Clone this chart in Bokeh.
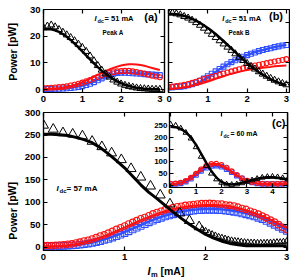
from bokeh.plotting import figure
from bokeh.models import GridBox, Range1d, LinearAxis, FixedTicker, Label
from bokeh.embed import file_html
from bokeh.resources import INLINE

FONT = "Liberation Sans"

# ---------------- data ----------------
X31 = [0.0, 0.1, 0.2, 0.3, 0.4, 0.5, 0.6, 0.7, 0.8, 0.9, 1.0, 1.1, 1.2, 1.3, 1.4, 1.5,
       1.6, 1.7, 1.8, 1.9, 2.0, 2.1, 2.2, 2.3, 2.4, 2.5, 2.6, 2.7, 2.8, 2.9, 3.0]
X61 = [0.0, 0.05, 0.1, 0.15, 0.2, 0.25, 0.3, 0.35, 0.4, 0.45, 0.5, 0.55, 0.6, 0.65, 0.7,
       0.75, 0.8, 0.85, 0.9, 0.95, 1.0, 1.05, 1.1, 1.15, 1.2, 1.25, 1.3, 1.35, 1.4, 1.45,
       1.5, 1.55, 1.6, 1.65, 1.7, 1.75, 1.8, 1.85, 1.9, 1.95, 2.0, 2.05, 2.1, 2.15, 2.2,
       2.25, 2.3, 2.35, 2.4, 2.45, 2.5, 2.55, 2.6, 2.65, 2.7, 2.75, 2.8, 2.85, 2.9, 2.95, 3.0]
X24 = [0.0, 0.2, 0.4, 0.6, 0.8, 1.0, 1.2, 1.4, 1.6, 1.8, 2.0, 2.2, 2.4, 2.6, 2.8, 3.0,
       3.2, 3.4, 3.6, 3.8, 4.0, 4.2, 4.4, 4.6]

# panel (a) Idc = 51 mA, peak A
a_tri = [23.2, 23.8, 24.2, 23.5, 22.5, 21.5, 20.5, 19.5, 18.3, 17.0, 15.8, 14.3, 12.6, 10.8,
         9.0, 7.3, 5.9, 4.7, 3.6, 2.8, 2.1, 1.6, 1.2, 0.9, 0.6, 0.4, 0.3, 0.2, 0.1, 0.1, 0.1]
a_fit_black = [22.6, 22.7, 22.6, 22.2, 21.6, 20.8, 19.8, 18.6, 17.2, 15.8, 14.3, 12.8, 11.3,
               9.8, 8.4, 7.1, 5.9, 4.8, 3.9, 3.1, 2.4, 1.8, 1.4, 1.0, 0.7, 0.5, 0.3, 0.2, 0.1, 0.1, 0.0]
a_circ = [0.6, 0.6, 0.7, 0.8, 0.9, 1.0, 1.2, 1.5, 1.8, 2.2, 2.6, 3.1, 3.6, 4.2, 4.8, 5.3,
          5.8, 6.2, 6.5, 6.8, 6.9, 7.0, 7.0, 6.8, 6.6, 6.3, 6.0, 5.6, 5.2, 4.9, 4.6]
a_fit_red = [0.2, 0.2, 0.3, 0.4, 0.5, 0.7, 1.0, 1.3, 1.7, 2.2, 2.8, 3.4, 4.1, 4.8, 5.5, 6.2,
             6.9, 7.5, 8.1, 8.6, 9.0, 9.3, 9.5, 9.5, 9.4, 9.2, 8.9, 8.5, 8.1, 7.7, 7.3]
a_sq = [0.2, 0.2, 0.2, 0.3, 0.3, 0.4, 0.5, 0.6, 0.8, 1.0, 1.3, 1.7, 2.2, 2.8, 3.5, 4.2,
        4.9, 5.5, 5.9, 6.2, 6.3, 6.3, 6.2, 6.1, 6.0, 5.9, 5.8, 5.7, 5.6, 5.5, 5.4]
a_fit_blue = [0.1, 0.1, 0.2, 0.2, 0.3, 0.4, 0.5, 0.7, 0.9, 1.2, 1.5, 1.9, 2.4, 3.0, 3.6, 4.2,
              4.8, 5.3, 5.7, 6.0, 6.2, 6.3, 6.3, 6.2, 6.1, 6.0, 5.9, 5.8, 5.7, 5.6, 5.5]

# panel (b) Idc = 51 mA, peak B
b_tri = [28.8, 28.7, 28.4, 28.0, 27.4, 26.8, 26.0, 25.1, 24.1, 23.0, 21.9, 20.7, 19.5, 18.3,
         17.1, 15.9, 14.7, 13.4, 12.1, 10.9, 9.8, 8.7, 7.7, 6.7, 5.8, 5.0, 4.2, 3.5, 2.9, 2.3, 1.8]
b_fit_black = [28.3, 28.3, 28.2, 28.0, 27.6, 27.1, 26.5, 25.8, 25.0, 24.1, 23.1, 22.0, 20.8,
               19.5, 18.2, 16.8, 15.4, 14.0, 12.6, 11.2, 9.9, 8.7, 7.6, 6.5, 5.6, 4.7, 3.9, 3.2, 2.6, 2.1, 1.6]
b_sq = [0.9, 0.9, 1.0, 1.1, 1.3, 1.6, 2.0, 2.6, 3.3, 4.1, 5.0, 5.9, 6.8, 7.7, 8.6, 9.5,
        10.3, 11.0, 11.7, 12.3, 12.9, 13.4, 13.9, 14.4, 14.8, 15.2, 15.5, 15.9, 16.2, 16.5, 16.7]
b_fit_blue = [0.1, 0.2, 0.3, 0.5, 0.7, 1.0, 1.5, 2.1, 2.8, 3.7, 4.6, 5.6, 6.6, 7.6, 8.5, 9.4,
              10.2, 11.0, 11.7, 12.3, 12.9, 13.5, 14.0, 14.4, 14.8, 15.2, 15.6, 15.9, 16.2, 16.5, 16.8]
b_circ = [1.0, 1.1, 1.3, 1.5, 1.8, 2.1, 2.5, 2.9, 3.4, 3.9, 4.4, 4.8, 5.2, 5.6, 6.0, 6.4,
          6.8, 7.2, 7.6, 8.0, 8.4, 8.7, 9.0, 9.3, 9.6, 9.9, 10.2, 10.5, 10.8, 11.1, 11.4]
b_fit_red = [0.2, 0.3, 0.4, 0.6, 0.8, 1.0, 1.3, 1.7, 2.1, 2.5, 3.0, 3.5, 4.0, 4.5, 5.0, 5.5,
             5.9, 6.3, 6.7, 7.0, 7.3, 7.6, 7.8, 8.0, 8.2, 8.4, 8.5, 8.7, 8.8, 8.9, 9.0]

# panel (c) Idc = 57 mA
c_tri_x1 = [0.0, 0.12, 0.24, 0.36, 0.48, 0.6, 0.72, 0.84, 0.96, 1.08, 1.2, 1.32, 1.44, 1.56,
            1.68, 1.8, 1.92]
c_tri_1 = [272, 263, 255, 252, 248, 236, 224, 210, 195, 175, 156, 136, 116, 96, 76, 59, 45]
c_tri_x2 = [1.96, 2.0, 2.04, 2.08, 2.12, 2.16, 2.2, 2.24, 2.28, 2.32, 2.36, 2.4, 2.44, 2.48,
            2.52, 2.56, 2.6, 2.64, 2.68, 2.72, 2.76, 2.8, 2.84, 2.88, 2.92, 2.96, 3.0]
c_tri_2 = [40, 36, 32, 29, 26, 23, 21, 19, 17, 15, 14, 13, 12, 11, 10.5, 10, 10, 9.5, 9.5,
           9.5, 10, 10, 10.5, 11, 11, 12, 13]
c_fit_black = [252, 252, 251, 249, 245, 240, 233, 222, 208, 193, 177, 158, 139, 122, 108, 93,
               78, 64, 51, 39, 28, 20, 13, 8, 5, 3, 3, 3, 3, 3, 3]
c_circ = [3, 3.5, 3, 4, 4.5, 5, 6, 7, 9, 11, 13.5, 15, 18, 21, 24.5, 27, 31, 35, 39.5, 43,
          47, 51.5, 55, 59, 63, 66, 70, 74, 77, 80, 83, 85, 88, 90, 91, 93, 94, 95, 96, 97,
          97, 97.5, 97, 96, 96, 94, 93, 91.5, 89, 86, 84, 80, 77, 73.5, 69, 65, 60, 55.5, 50, 44, 39]
c_sq = [2, 2, 2, 2.5, 2, 2.5, 3, 3.5, 4, 5, 6, 7.5, 9, 11, 13, 15.5, 18, 21, 24, 27.5,
        31, 35, 39, 43, 47, 51, 55, 58.5, 62, 65, 68, 70.5, 73, 75, 77, 78.5, 80, 81, 82, 82.5,
        83, 83, 83, 82.5, 82, 81, 80, 78.5, 77, 75, 73, 70.5, 68, 65, 62, 58, 54, 49.5, 45, 40.5, 36]
c_fit_red = [1, 1, 2, 3.5, 6, 10, 15, 21, 28, 36, 44, 52, 60, 67, 74, 80, 85, 88.5, 91, 93,
             94, 94, 93, 91, 87, 82, 76, 69, 61, 52, 42]
c_fit_blue = [1, 1, 2, 3, 4.5, 7, 10, 14.5, 20, 26, 33, 41, 49, 57, 64, 70, 75, 79, 82, 84,
              85, 85, 84, 82, 79, 75, 70, 64, 57, 48, 38]

# inset Idc = 60 mA
i_tri = [255, 250, 238, 220, 196, 160, 120, 82, 50, 26, 12, 5, 3, 5, 10, 16, 22, 28, 33,
         36, 37, 35, 31, 26]
i_fit_black = [245, 243, 236, 222, 200, 170, 133, 95, 60, 33, 15, 6, 4, 6, 11, 17, 23, 28,
               32, 34, 34, 32, 29, 25]
i_circ = [8, 9, 12, 20, 33, 50, 68, 82, 90, 91, 86, 75, 60, 45, 31, 21, 14, 10, 8, 7, 7, 7, 8, 9]
i_sq = [5, 6, 9, 16, 28, 44, 61, 74, 81, 82, 78, 68, 55, 41, 29, 19, 13, 9, 7, 6, 6, 6, 7, 8]
i_fit_red = [6, 8, 12, 21, 35, 52, 70, 83, 90, 90, 84, 73, 58, 43, 30, 20, 13, 9, 7, 6, 6, 6, 7, 8]
i_fit_blue = [4, 5, 8, 15, 27, 43, 60, 73, 80, 81, 77, 67, 54, 40, 28, 18, 12, 8, 6, 5, 5, 5, 6, 7]

TICKS_X3 = [0, 1, 2, 3]
TICKS_A_Y = [0, 10, 20, 30]
TICKS_B_Y = [2.5, 10, 17.5, 25]
TICKS_C_Y = [0, 50, 100, 150, 200, 250, 300]
TICKS_I_X = [0, 1, 2, 3, 4]
TICKS_I_Y = [0, 50, 100, 150, 200, 250]

RED = "#ff1010"
BLUE = "#3050ff"
H = 278  # overlay height


def no_align(p):
    try:
        p.frame_align = False
    except Exception:
        pass


def style_axis(ax, ticks, size, standoff, show=True):
    ax.ticker = FixedTicker(ticks=ticks)
    ax.major_tick_in = 4
    ax.major_tick_out = 0
    ax.minor_tick_line_color = None
    ax.axis_line_color = "black"
    ax.axis_line_width = 1.2
    ax.major_tick_line_color = "black"
    ax.major_tick_line_width = 1.2
    ax.major_label_text_font = FONT
    ax.major_label_text_font_style = "bold"
    if show:
        ax.major_label_text_color = "black"
        ax.major_label_text_font_size = f"{size}px"
        ax.major_label_standoff = standoff
    else:
        ax.major_label_text_color = None
        ax.major_label_text_font_size = "1px"
        ax.major_label_standoff = 0


def make_fig(w, h, xr, yr, borders, xt, yt, fsize=9.5, ylab=True,
             xstand=3, ystand=3, transparent=False):
    l, r, t, b = borders
    p = figure(width=w, height=h, x_range=Range1d(*xr), y_range=Range1d(*yr),
               output_backend="svg", toolbar_location=None,
               min_border_left=l, min_border_right=r, min_border_top=t, min_border_bottom=b)
    no_align(p)
    p.grid.visible = False
    p.outline_line_color = "black"
    p.outline_line_width = 1.2
    p.background_fill_color = "white"
    p.border_fill_color = None if transparent else "white"
    style_axis(p.xaxis[0], xt, fsize, xstand, True)
    style_axis(p.yaxis[0], yt, fsize, ystand, ylab)
    top = LinearAxis()
    style_axis(top, xt, fsize, 0, False)
    p.add_layout(top, "above")
    right = LinearAxis()
    style_axis(right, yt, fsize, 0, False)
    p.add_layout(right, "right")
    return p


def draw(p, xs_line, fit_black, x_pts, circ, sq, fit_red, fit_blue, pt_size, lw_black, tris):
    p.scatter(x_pts, sq, marker="square", size=pt_size, fill_color=None,
              line_color=BLUE, line_width=1.1)
    p.line(xs_line, fit_blue, line_color=BLUE, line_width=2.4)
    p.line(xs_line, fit_red, line_color=RED, line_width=2.0)
    p.scatter(x_pts, circ, marker="circle", size=pt_size, fill_color=None,
              line_color=RED, line_width=1.1)
    for tx, ty, ts in tris:
        p.scatter(tx, ty, marker="triangle", size=ts, fill_color=None,
                  line_color="black", line_width=1.0)
    p.line(xs_line, fit_black, line_color="black", line_width=lw_black)


# ---------------- panel (a) ----------------
pa = make_fig(165, 104, (0, 3.12), (-1.1, 30), (42, 2, 8, 13), TICKS_X3, TICKS_A_Y)
draw(pa, X31, a_fit_black, X31, a_circ, a_sq, a_fit_red, a_fit_blue, 5, 2.5,
     [(X31, a_tri, 7)])

# ---------------- panel (b) ----------------
pb = make_fig(124, 104, (0, 3.08), (-1.1, 30), (2, 1, 8, 13), TICKS_X3, TICKS_B_Y, ylab=False)
draw(pb, X31, b_fit_black, X31, b_circ, b_sq, b_fit_red, b_fit_blue, 5, 2.5,
     [(X31, b_tri, 7)])

# ---------------- panel (c) ----------------
pc = make_fig(289, 172, (0, 3.01), (-7.8, 300.5), (42, 3, 7, 27), TICKS_X3, TICKS_C_Y)
draw(pc, X31, c_fit_black, X61, c_circ, c_sq, c_fit_red, c_fit_blue, 6.5, 3.0,
     [(c_tri_x1, c_tri_1, 10), (c_tri_x2, c_tri_2, 6)])

# ---------------- inset ----------------
pi = make_fig(148, 95, (-0.04, 4.59), (-8.3, 304), (27, 3, 7, 13), TICKS_I_X, TICKS_I_Y,
              fsize=8, xstand=1, ystand=2, transparent=True)
draw(pi, X24, i_fit_black, X24, i_circ, i_sq, i_fit_red, i_fit_blue, 4.5, 2.5,
     [(X24, i_tri, 5.5)])

# ---------------- transparent overlay carrying all annotation texts ----------------
ov = figure(width=291, height=H, x_range=Range1d(0, 1), y_range=Range1d(0, 1),
            output_backend="svg", toolbar_location=None, x_axis_type=None, y_axis_type=None,
            min_border_left=0, min_border_right=0, min_border_top=0, min_border_bottom=0)
no_align(ov)
ov.grid.visible = False
ov.outline_line_color = None
ov.background_fill_color = None
ov.border_fill_color = None


def txt(x, y, s, size, style="bold", align="left", angle=0.0):
    # x, y: pixel position measured from the top-left corner of the page
    ov.add_layout(Label(x=x, y=H - y, x_units="screen", y_units="screen", text=s,
                        text_font=FONT, text_font_size=f"{size}px", text_font_style=style,
                        text_align=align, text_baseline="middle", angle=angle,
                        text_color="black"))


def idc(x, y, val, size, sub_size):
    txt(x, y, "I", size, "bold italic")
    txt(x + 3, y + 2.3, "dc", sub_size, "bold")
    txt(x + 10, y, "= " + val, size)


idc(94, 17.7, "51 mA", 7.5, 5.5)
txt(112.5, 32, "Peak A", 6.3, align="center")
txt(150.5, 16, "(a)", 11, align="center")
idc(221.7, 17.7, "51 mA", 7.5, 5.5)
txt(238.5, 32, "Peak B", 6.3, align="center")
txt(275.5, 15, "(b)", 11, align="center")
idc(56, 187.7, "57 mA", 8, 6)
idc(220, 133.3, "60 mA", 7, 5)
txt(285, 122, "(c)", 11, align="right")
txt(12, 50, "Power  [pW]", 10.5, align="center", angle=1.5708)
txt(12, 207.5, "Power   [pW]", 10.5, align="center", angle=1.5708)
txt(147, 270, "I", 11, "bold italic")
txt(150.5, 274, "m", 7.5, "bold")
txt(160, 270, "[mA]", 10.5)

grid = GridBox(children=[(pa, 1, 1, 1, 2), (pb, 1, 3, 1, 1), (pc, 2, 1, 2, 3), (pi, 2, 2, 1, 2),
                         (ov, 0, 0, 5, 5)],
               rows=["1px", "104px", "95px", "77px", "1px"],
               cols=["1px", "141px", "24px", "124px", "1px"], spacing=0)

open("out.html", "w").write(file_html(grid, INLINE))
